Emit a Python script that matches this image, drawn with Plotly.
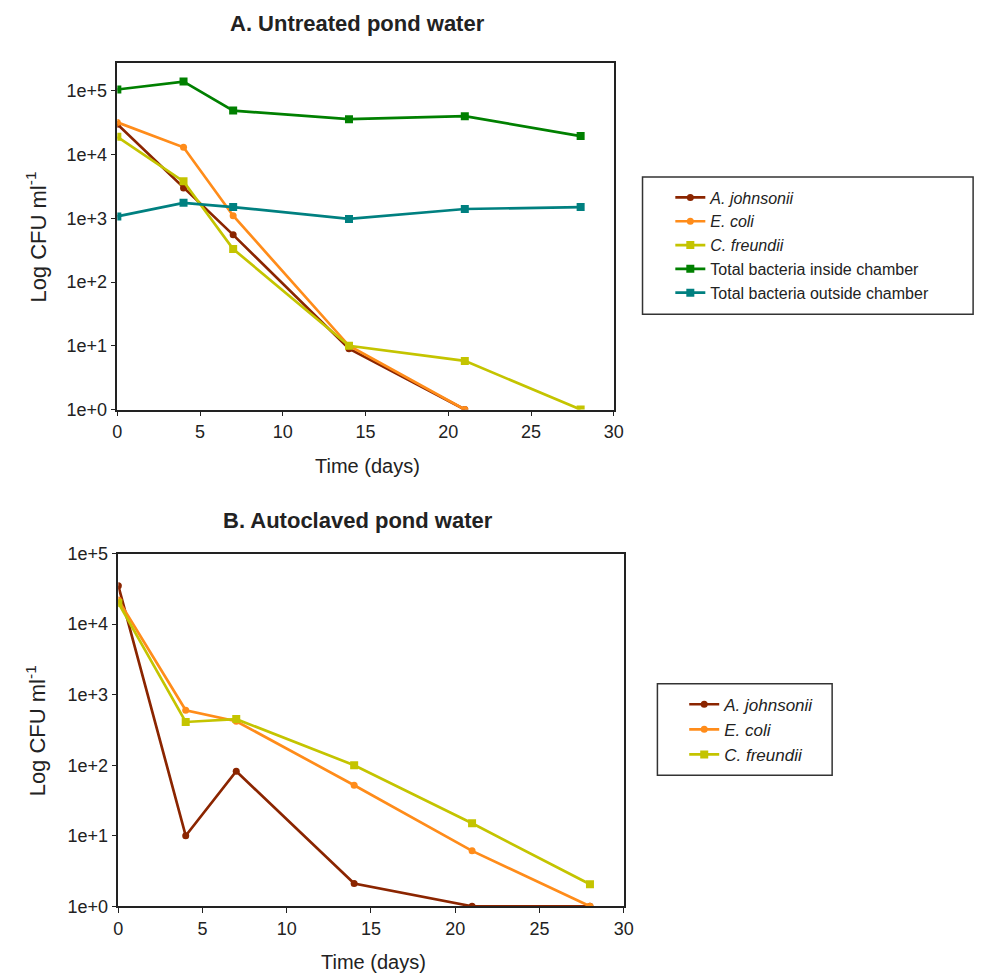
import plotly.graph_objects as go

W, H = 989, 979

days = [0, 4, 7, 14, 21, 28]

# Panel A: untreated pond water
a_johnsonii_A = [30000, 3000, 550, 9, 1]
e_coli_A = [32000, 13000, 1100, 10, 1]
c_freundii_A = [19000, 3800, 330, 10, 5.8, 1]
total_inside_A = [105000, 140000, 49000, 36000, 40000, 19500]
total_outside_A = [1070, 1750, 1500, 980, 1400, 1500]

# Panel B: autoclaved pond water
a_johnsonii_B = [35000, 10, 82, 2.1, 1, 1]
e_coli_B = [22000, 600, 420, 52, 6.1, 1]
c_freundii_B = [20000, 410, 450, 100, 15, 2.05]

ytick_vals = [1, 10, 100, 1000, 10000, 100000]
ytick_text = ["1e+0", "1e+1", "1e+2", "1e+3", "1e+4", "1e+5"]
xtick_vals = [0, 5, 10, 15, 20, 25, 30]

COL_AJ = "#8B2500"
COL_EC = "#FF8C1A"
COL_CF = "#C4C400"
COL_IN = "#008000"
COL_OUT = "#008080"

FONT = "Liberation Sans, Arial, sans-serif"

# compensation for page offset/scale observed in the rendered screenshot
def px_x(p):
    return ((p - 10.9) / 0.992) / W

def px_y(p):
    return 1 - ((p - 14.9) / 0.986) / H

fig = go.Figure()

def add(x, y, name, color, symbol, size, xa, ya, legend):
    fig.add_trace(go.Scatter(
        x=x[:len(y)], y=y, name=name, mode="lines+markers",
        line=dict(color=color, width=2.7),
        marker=dict(color=color, symbol=symbol, size=size),
        xaxis=xa, yaxis=ya, legend=legend,
    ))

add(days, a_johnsonii_A, "<i>A. johnsonii</i>", COL_AJ, "circle", 7, "x", "y", "legend")
add(days, e_coli_A, "<i>E. coli</i>", COL_EC, "circle", 7, "x", "y", "legend")
add(days, c_freundii_A, "<i>C. freundii</i>", COL_CF, "square", 8, "x", "y", "legend")
add(days, total_inside_A, "Total bacteria inside chamber", COL_IN, "square", 8, "x", "y", "legend")
add(days, total_outside_A, "Total bacteria outside chamber", COL_OUT, "square", 8, "x", "y", "legend")

add(days, a_johnsonii_B, "<i>A. johnsonii</i>", COL_AJ, "circle", 7, "x2", "y2", "legend2")
add(days, e_coli_B, "<i>E. coli</i>", COL_EC, "circle", 7, "x2", "y2", "legend2")
add(days, c_freundii_B, "<i>C. freundii</i>", COL_CF, "square", 8, "x2", "y2", "legend2")

axis_common = dict(
    showline=True, linecolor="#222", linewidth=1.5, mirror=True,
    ticks="outside", ticklen=5, tickcolor="#222", tickwidth=1,
    showgrid=False, zeroline=False,
    tickfont=dict(family=FONT, size=18, color="#222"),
)

legend_common = dict(
    borderwidth=0, bgcolor="rgba(0,0,0,0)",
    xanchor="left", yanchor="top", tracegroupgap=0, itemwidth=30,
)

fig.update_layout(
    width=W, height=H,
    margin=dict(l=0, r=0, t=0, b=0),
    paper_bgcolor="white", plot_bgcolor="white",
    xaxis=dict(domain=[px_x(116), px_x(616)], range=[0, 30], tickvals=xtick_vals,
               anchor="y", **axis_common),
    yaxis=dict(domain=[px_y(409), px_y(60)], type="log", range=[0, 5.44],
               tickvals=ytick_vals, ticktext=ytick_text, anchor="x", **axis_common),
    xaxis2=dict(domain=[px_x(117), px_x(626)], range=[0, 30], tickvals=xtick_vals,
                anchor="y2", **axis_common),
    yaxis2=dict(domain=[px_y(909), px_y(554)], type="log", range=[0, 5],
                tickvals=ytick_vals, ticktext=ytick_text, anchor="x2", **axis_common),
    legend=dict(x=px_x(673), y=px_y(178.5),
                font=dict(family=FONT, size=16, color="#222"), **legend_common),
    legend2=dict(x=px_x(687), y=px_y(688),
                 font=dict(family=FONT, size=17, color="#222"), **legend_common),
    showlegend=True,
)

# legend frames
box = dict(type="rect", xref="paper", yref="paper",
           line=dict(color="#333", width=1.5), fillcolor="rgba(0,0,0,0)", layer="below")
fig.add_shape(x0=px_x(645), x1=px_x(978), y0=px_y(313), y1=px_y(175), **box)
fig.add_shape(x0=px_x(660), x1=px_x(836), y0=px_y(777), y1=px_y(685), **box)

ann = []
def text(x, y, t, size, bold=False, angle=0):
    ann.append(dict(x=px_x(x), y=px_y(y), xref="paper", yref="paper",
                    text=("<b>%s</b>" % t) if bold else t, showarrow=False,
                    textangle=angle, xanchor="center", yanchor="middle",
                    font=dict(family=FONT, size=size, color="#222")))

text(358, 20, "A. Untreated pond water", 22, bold=True)
text(358, 521, "B. Autoclaved pond water", 22, bold=True)
text(368, 466, "Time (days)", 20)
text(374, 965, "Time (days)", 20)
text(34, 235, "Log CFU ml<sup>-1</sup>", 22, angle=-90)
text(34, 732, "Log CFU ml<sup>-1</sup>", 22, angle=-90)
fig.update_layout(annotations=ann)

fig.write_html("out.html")
